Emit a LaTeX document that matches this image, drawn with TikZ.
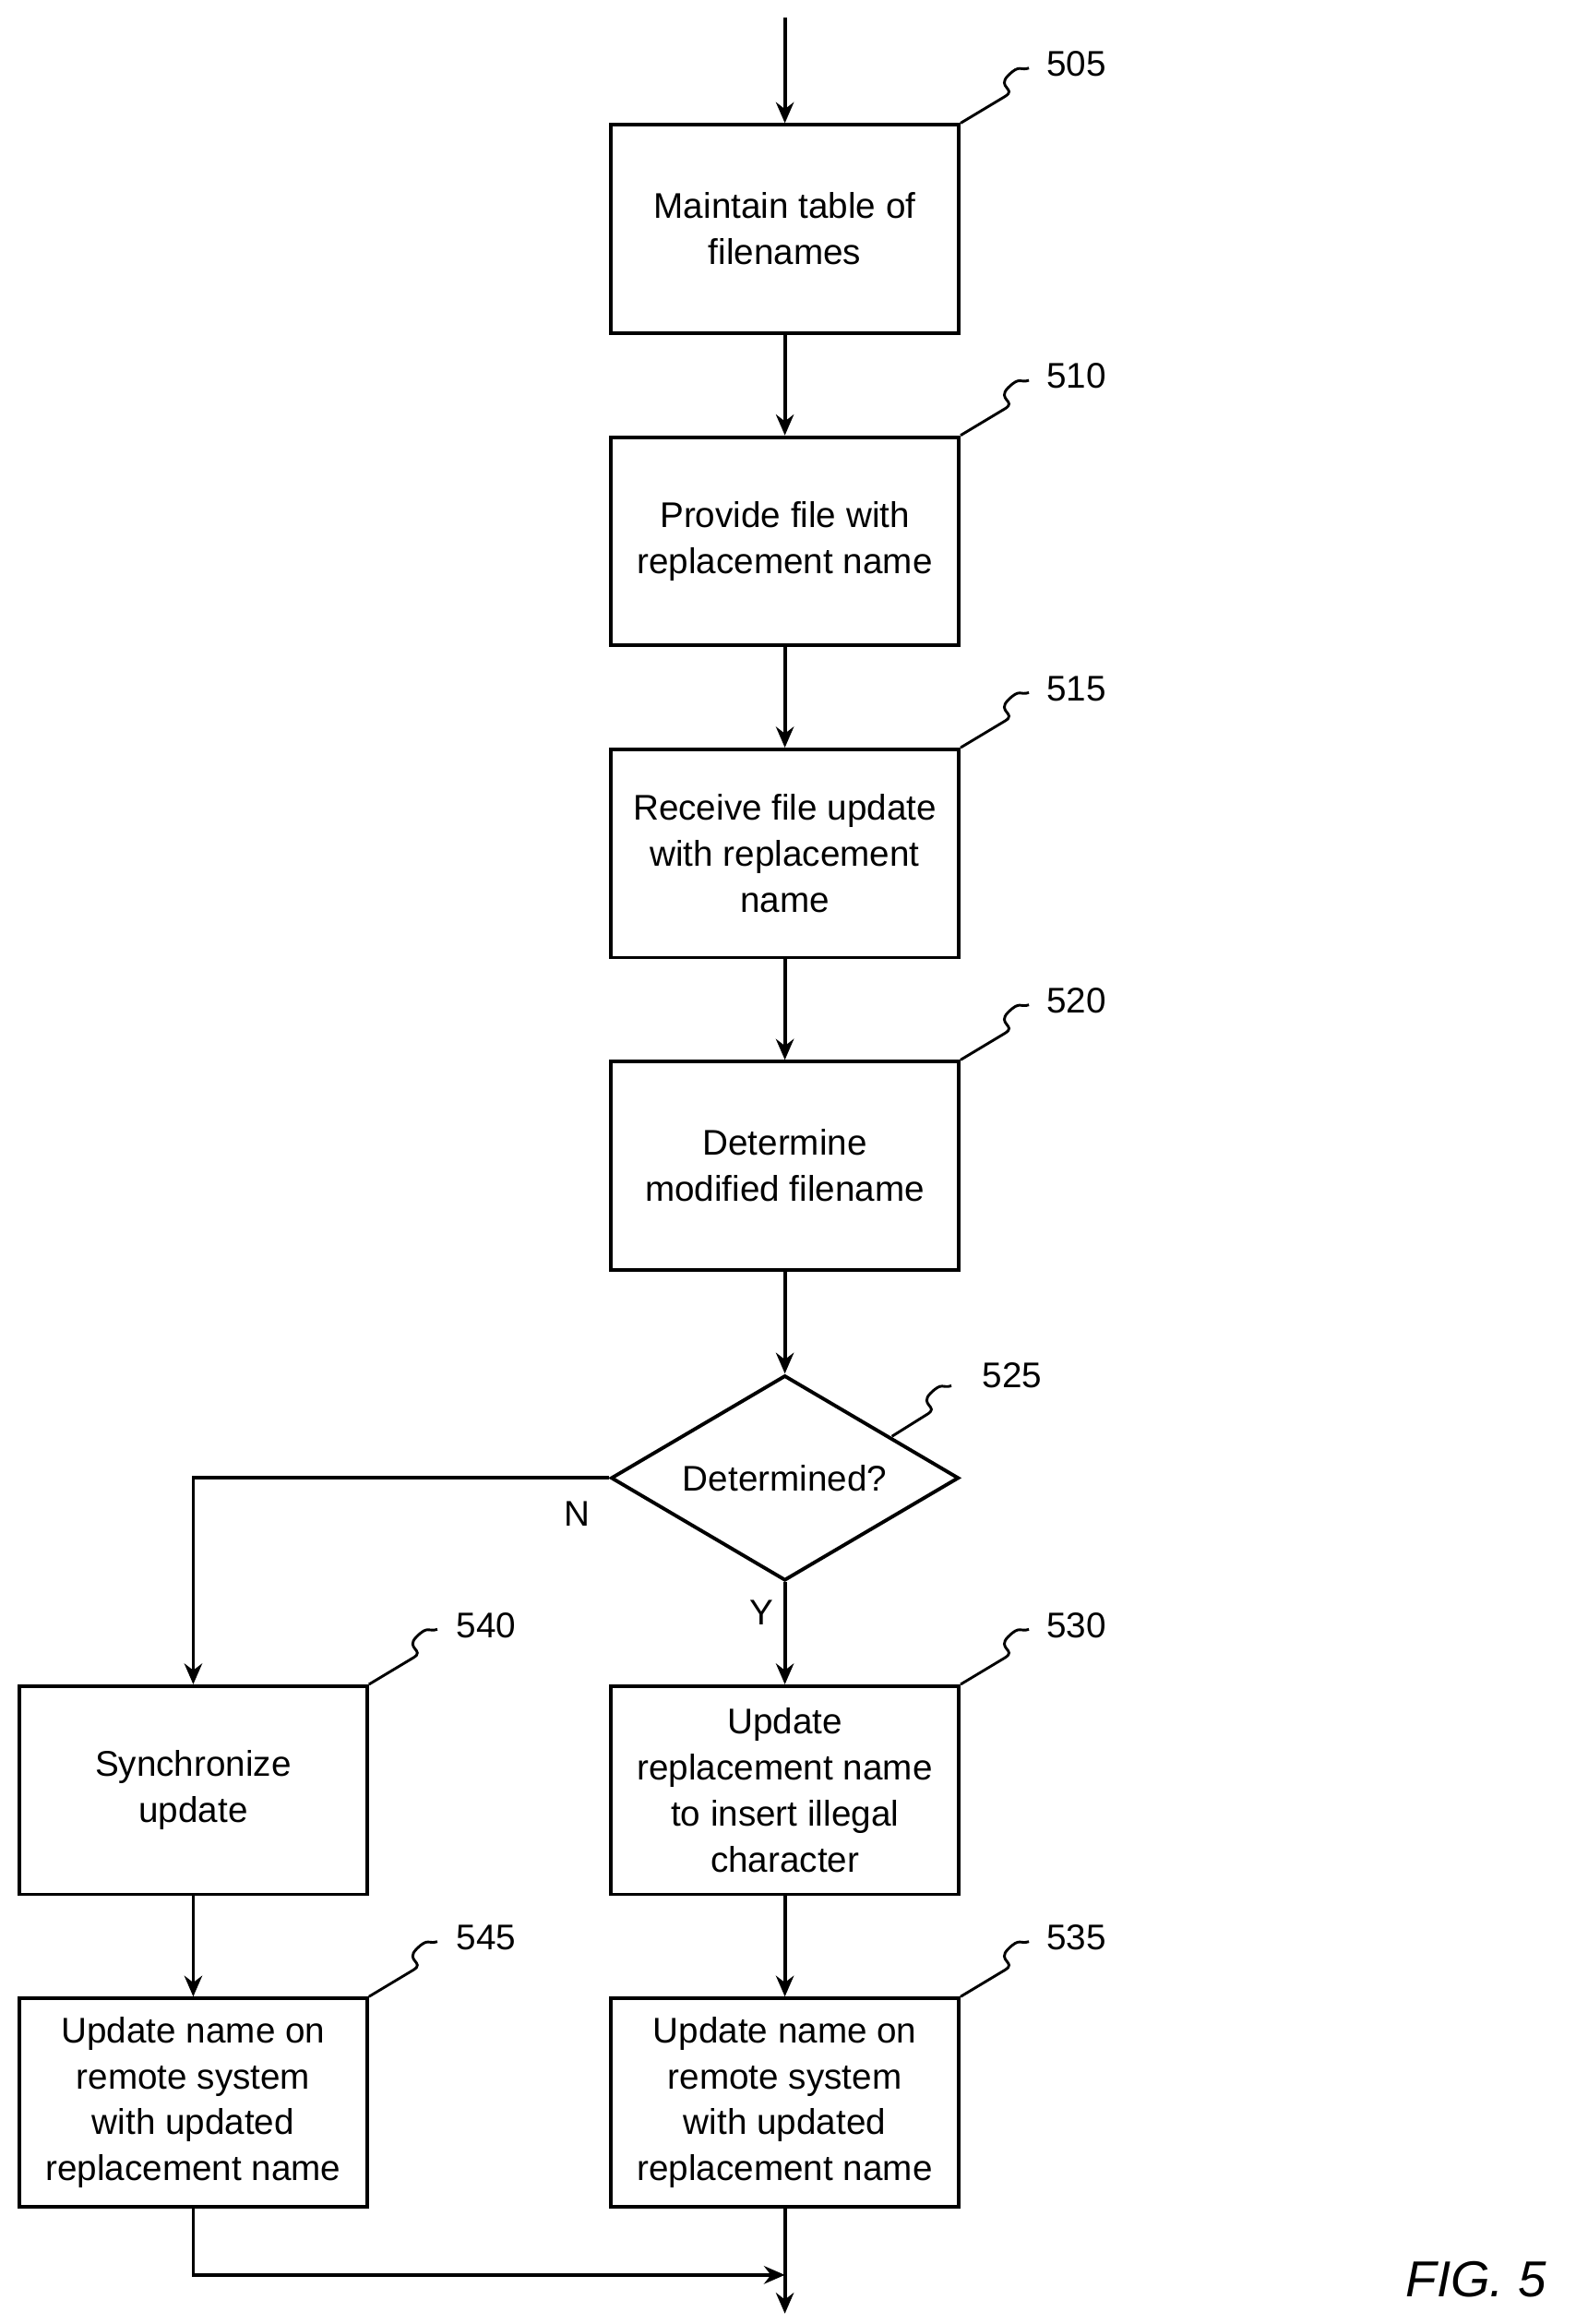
\documentclass[tikz,border=0pt]{standalone}
\usepackage{fontspec}
\setmainfont{Liberation Sans}
\usetikzlibrary{arrows.meta,shapes.geometric}
\begin{document}
\begin{tikzpicture}[x=0.5pt,y=-0.5pt,
  box/.style={draw,line width=1.2pt,minimum width=117pt,minimum height=70pt,inner sep=2pt,align=center,font=\fontsize{12}{15.5}\selectfont},
  dia/.style={draw,line width=1.2pt,diamond,aspect=1.7,minimum width=117pt,minimum height=69pt,inner sep=0pt,font=\fontsize{12}{15.5}\selectfont},
  arr/.style={line width=1.2pt,-{Stealth[length=7pt,width=6pt]}},
  lab/.style={font=\fontsize{12}{14}\selectfont,anchor=west},
  sq/.style={line width=0.9pt}]
\useasboundingbox (0,0) rectangle (1060,1563);
\node[box] (b505) at (528,154) {Maintain table of\\filenames};
\node[box] (b510) at (528,364) {Provide file with\\replacement name};
\node[box] (b515) at (528,574) {Receive file update\\with replacement\\name};
\node[box] (b520) at (528,784) {Determine\\modified filename};
\node[dia] (d525) at (528,994) {Determined?};
\node[box] (b530) at (528,1204) {Update\\replacement name\\to insert illegal\\character};
\node[box] (b535) at (528,1414) {Update name on\\remote system\\with updated\\replacement name};
\node[box] (b540) at (130,1204) {Synchronize\\update};
\node[box] (b545) at (130,1414) {Update name on\\remote system\\with updated\\replacement name};
\coordinate (top) at (528,12);
\coordinate (end) at (528,1556);
\coordinate (lc) at (130,1530);
\coordinate (mc) at (528,1530);
\draw[arr] (top) -- (b505);
\draw[arr] (b505) -- (b510);
\draw[arr] (b510) -- (b515);
\draw[arr] (b515) -- (b520);
\draw[arr] (b520) -- (d525);
\draw[arr] (d525) -- node[pos=0.3,left,font=\fontsize{12}{14}\selectfont]{Y} (b530);
\draw[arr] (b530) -- (b535);
\draw[arr] (d525.west) -| (b540);
\node[font=\fontsize{12}{14}\selectfont] (n) at (388,1018) {N};
\draw[arr] (b540) -- (b545);
\draw[arr] (b535) -- (end);
\draw[arr] (b545) -- (lc) -- (mc);
\foreach \b/\t/\x/\y in {b505/505/645/84, b510/510/645/294, b515/515/645/504, b520/520/645/714, b530/530/645/1134, b535/535/645/1344, b540/540/248/1134, b545/545/248/1344}{
  \draw[sq] (\b.north east) -- ++(30,-18) .. controls ++(8,-5) and ++(-8,8) .. ++(2,-14) .. controls ++(8,-8) and ++(-6,2) .. ++(14,-5);
  \node[lab] at (\x+52,\y-41) {\t};
}
\draw[sq] (600,966) -- ++(24,-15) .. controls ++(8,-5) and ++(-8,8) .. ++(2,-14) .. controls ++(8,-8) and ++(-6,2) .. ++(14,-5);
\node[lab] at (654,925) {525};
\node[font=\fontsize{17}{20}\selectfont\itshape] (fig) at (993,1533) {FIG. 5};
\end{tikzpicture}
\end{document}
